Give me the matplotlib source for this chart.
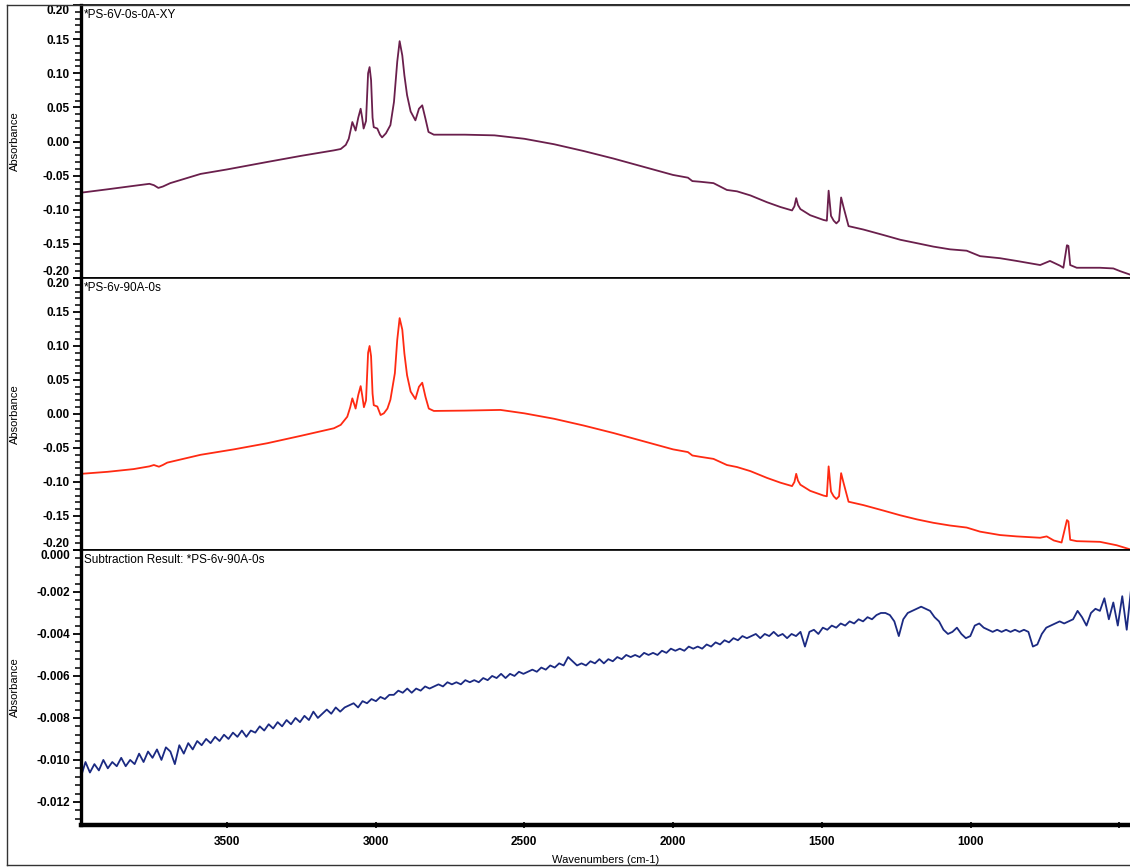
import matplotlib.pyplot as plt
import numpy as np
from matplotlib.ticker import MultipleLocator, FormatStrFormatter
from matplotlib.lines import Line2D

plt.rcParams['font.family'] = ['Liberation Sans', 'DejaVu Sans']

# Espectro 1: *PS-6V-0s-0A-XY
wn1 = [3990, 3900, 3813, 3760, 3745, 3730, 3715, 3690, 3588, 3500, 3364, 3250, 3140, 3117,
       3100, 3090, 3082, 3078, 3072, 3067, 3058, 3050, 3045, 3040, 3032, 3025, 3020, 3015,
       3010, 3006, 2994, 2985, 2978, 2965, 2950, 2938, 2927, 2919, 2910, 2903, 2894, 2882,
       2866, 2854, 2843, 2832, 2822, 2804, 2700, 2600, 2500, 2400, 2300, 2200, 2100, 2000,
       1950, 1935, 1908, 1864, 1819, 1785, 1740, 1684, 1639, 1600, 1592, 1586, 1580, 1572,
       1539, 1494, 1483, 1477, 1469, 1460, 1451, 1442, 1435, 1427, 1410, 1360, 1293, 1236,
       1180, 1125, 1069, 1013, 968, 901, 845, 766, 733, 699, 688, 676, 671, 665, 643, 565,
       520, 497, 464]
abs1 = [-0.075, -0.070, -0.065, -0.062, -0.064, -0.068, -0.066, -0.061, -0.0475, -0.041,
        -0.030, -0.021, -0.013, -0.011, -0.005, 0.004, 0.020, 0.0285, 0.022, 0.016, 0.035,
        0.048, 0.035, 0.019, 0.030, 0.100, 0.109, 0.090, 0.035, 0.021, 0.019, 0.010, 0.006,
        0.012, 0.024, 0.058, 0.117, 0.147, 0.126, 0.097, 0.068, 0.044, 0.031, 0.048, 0.053,
        0.033, 0.014, 0.010, 0.010, 0.009, 0.004, -0.004, -0.014, -0.025, -0.037, -0.049,
        -0.053, -0.058, -0.059, -0.061, -0.071, -0.073, -0.079, -0.089, -0.096, -0.101,
        -0.095, -0.083, -0.093, -0.099, -0.108, -0.115, -0.116, -0.072, -0.109, -0.116,
        -0.120, -0.116, -0.082, -0.096, -0.124, -0.129, -0.137, -0.144, -0.149, -0.154,
        -0.158, -0.160, -0.168, -0.171, -0.175, -0.181, -0.175, -0.182, -0.185, -0.152,
        -0.153, -0.181, -0.185, -0.185, -0.186, -0.190, -0.195]

# Espectro 2: *PS-6v-90A-0s
wn2 = [3990, 3900, 3813, 3760, 3745, 3728, 3715, 3700, 3588, 3476, 3364, 3250, 3140, 3117,
       3095, 3085, 3078, 3072, 3067, 3058, 3050, 3045, 3039, 3032, 3025, 3020, 3015, 3010,
       3006, 2994, 2983, 2972, 2960, 2950, 2935, 2927, 2919, 2910, 2903, 2894, 2882, 2866,
       2854, 2843, 2832, 2821, 2804, 2700, 2580, 2500, 2400, 2300, 2200, 2100, 2000, 1950,
       1935, 1908, 1864, 1819, 1785, 1740, 1684, 1639, 1600, 1592, 1586, 1580, 1572, 1539,
       1494, 1483, 1477, 1469, 1460, 1451, 1442, 1435, 1427, 1410, 1360, 1293, 1236, 1180,
       1125, 1069, 1013, 968, 901, 845, 766, 744, 720, 694, 676, 671, 665, 643, 565, 509, 464]
abs2 = [-0.088, -0.085, -0.081, -0.077, -0.075, -0.0775, -0.075, -0.0715, -0.060, -0.052,
        -0.043, -0.032, -0.021, -0.016, -0.004, 0.010, 0.023, 0.015, 0.008, 0.028, 0.041,
        0.028, 0.010, 0.020, 0.090, 0.100, 0.085, 0.030, 0.013, 0.011, -0.0015, 0.001, 0.008,
        0.021, 0.060, 0.109, 0.141, 0.124, 0.089, 0.057, 0.033, 0.022, 0.040, 0.046, 0.025,
        0.008, 0.0045, 0.005, 0.006, 0.001, -0.007, -0.017, -0.028, -0.040, -0.052, -0.056,
        -0.061, -0.063, -0.066, -0.075, -0.078, -0.084, -0.094, -0.101, -0.106, -0.100,
        -0.088, -0.098, -0.104, -0.113, -0.120, -0.121, -0.077, -0.114, -0.121, -0.125,
        -0.121, -0.087, -0.101, -0.129, -0.134, -0.142, -0.149, -0.155, -0.160, -0.164,
        -0.167, -0.173, -0.178, -0.180, -0.182, -0.180, -0.186, -0.189, -0.156, -0.158,
        -0.185, -0.187, -0.188, -0.193, -0.199]

# Resultado da subtração (3990 -> 460 cm-1)
abs3 = [
    -0.0108, -0.0101, -0.0106, -0.0102, -0.0105, -0.0100, -0.0104, -0.0101, -0.0103, -0.0099,
    -0.0103, -0.0100, -0.0102, -0.0097, -0.0101, -0.0096, -0.0099, -0.0095, -0.0100, -0.0094,
    -0.0096, -0.0102, -0.0093, -0.0097, -0.0092, -0.0095, -0.0091, -0.0093, -0.0090, -0.0092,
    -0.0089, -0.0091, -0.0088, -0.0090, -0.0087, -0.0089, -0.0086, -0.0089, -0.0086, -0.0087,
    -0.0084, -0.0086, -0.0083, -0.0085, -0.0082, -0.0084, -0.0081, -0.0083, -0.0080, -0.0082,
    -0.0079, -0.0081, -0.0077, -0.0080, -0.0078, -0.0076, -0.0078, -0.0075, -0.0077, -0.0075,
    -0.0074, -0.0073, -0.0075, -0.0072, -0.0073, -0.0071, -0.0072, -0.0070, -0.0071, -0.0069,
    -0.0069, -0.0067, -0.0068, -0.0066, -0.0068, -0.0066, -0.0067, -0.0065, -0.0066, -0.0065,
    -0.0064, -0.0065, -0.0063, -0.0064, -0.0063, -0.0064, -0.0062, -0.0063, -0.0062, -0.0063,
    -0.0061, -0.0062, -0.0060, -0.0061, -0.0059, -0.0061, -0.0059, -0.0060, -0.0058, -0.0059,
    -0.0058, -0.0057, -0.0058, -0.0056, -0.0057, -0.0055, -0.0056, -0.0054, -0.0055, -0.0051,
    -0.0053, -0.0055, -0.0054, -0.0055, -0.0053, -0.0054, -0.0052, -0.0054, -0.0052, -0.0053,
    -0.0051, -0.0052, -0.0050, -0.0051, -0.0050, -0.0051, -0.0049, -0.0050, -0.0049, -0.0050,
    -0.0048, -0.0049, -0.0047, -0.0048, -0.0047, -0.0048, -0.0046, -0.0047, -0.0046, -0.0047,
    -0.0045, -0.0046, -0.0044, -0.0045, -0.0043, -0.0044, -0.0042, -0.0043, -0.0041, -0.0042,
    -0.0041, -0.0040, -0.0042, -0.0040, -0.0041, -0.0039, -0.0041, -0.0040, -0.0042, -0.0040,
    -0.0041, -0.0039, -0.0046, -0.0039, -0.0038, -0.0040, -0.0037, -0.0038, -0.0036, -0.0037,
    -0.0035, -0.0036, -0.0034, -0.0035, -0.0033, -0.0034, -0.0032, -0.0033, -0.0031, -0.0030,
    -0.0030, -0.0031, -0.0034, -0.0041, -0.0033, -0.0030, -0.0029, -0.0028, -0.0027, -0.0028,
    -0.0029, -0.0032, -0.0034, -0.0038, -0.0040, -0.0039, -0.0037, -0.0040, -0.0042, -0.0041,
    -0.0036, -0.0035, -0.0037, -0.0038, -0.0039, -0.0038, -0.0039, -0.0038, -0.0039, -0.0038,
    -0.0039, -0.0038, -0.0039, -0.0046, -0.0045, -0.0040, -0.0037, -0.0036, -0.0035, -0.0034,
    -0.0035, -0.0034, -0.0033, -0.0029, -0.0032, -0.0036, -0.0030, -0.0028, -0.0029, -0.0023,
    -0.0033, -0.0025, -0.0036, -0.0022, -0.0038, -0.0018,
]
wn3 = np.linspace(3990, 460, len(abs3))

titulos = ['*PS-6V-0s-0A-XY', '*PS-6v-90A-0s', 'Subtraction Result: *PS-6v-90A-0s']
cores = ['#6a1f4c', '#ff2a12', '#1b2a82']

W, H = 1130, 867
fig = plt.figure(figsize=(W / 100, H / 100), dpi=100)

# posições dos painéis em pixels (topo, base)
paineis = [(5, 278), (278, 550), (550, 825)]
x0 = 81
axes = []
for topo, base in paineis:
    ax = fig.add_axes([x0 / W, 1 - base / H, 1 - x0 / W, (base - topo) / H])
    axes.append(ax)

dados = [(wn1, abs1), (wn2, abs2), (wn3, abs3)]
for ax, (x, y), cor, tit in zip(axes, dados, cores, titulos):
    ax.plot(x, y, color=cor, lw=1.3)
    ax.set_xlim(3990, 464)
    ax.text(0.003, 0.985, tit, transform=ax.transAxes, ha='left', va='top', fontsize=8.5)
    ax.set_ylabel('Absorbance', fontsize=8, labelpad=8)
    ax.spines['right'].set_visible(False)
    ax.spines['left'].set_linewidth(2.4)
    ax.spines['top'].set_linewidth(1.2)
    ax.spines['bottom'].set_linewidth(1.2)
    ax.tick_params(axis='y', which='major', direction='out', length=6, width=1.3,
                   labelsize=8.5, pad=2)
    ax.tick_params(axis='y', which='minor', direction='out', length=4, width=1.1)
    ax.set_xticks([3500, 3000, 2500, 2000, 1500, 1000, 500])
    for lab in ax.get_yticklabels():
        lab.set_fontweight('bold')

for ax in axes[:2]:
    ax.set_ylim(-0.2, 0.2)
    ax.yaxis.set_major_locator(MultipleLocator(0.05))
    ax.yaxis.set_minor_locator(MultipleLocator(0.01))
    ax.yaxis.set_major_formatter(FormatStrFormatter('%.2f'))
    ax.tick_params(axis='x', length=0, labelbottom=False)

ax3 = axes[2]
ax3.set_ylim(-0.0131, 0.0)
ax3.yaxis.set_major_locator(MultipleLocator(0.002))
ax3.yaxis.set_minor_locator(MultipleLocator(0.0004))
ax3.yaxis.set_major_formatter(FormatStrFormatter('%.3f'))
ax3.spines['bottom'].set_linewidth(3.2)
ax3.set_xticklabels(['3500', '3000', '2500', '2000', '1500', '1000', ''])
ax3.tick_params(axis='x', direction='inout', length=4, width=1.2, labelsize=8.5, pad=6)
for lab in ax3.get_xticklabels():
    lab.set_fontweight('bold')
ax3.set_xlabel('Wavenumbers (cm-1)', fontsize=8, labelpad=5)

fig.canvas.draw()
# rótulos das extremidades ficam dentro do painel, como no OMNIC
for ax in axes:
    labs = [l for l in ax.get_yticklabels() if l.get_text()]
    vals = ax.get_yticks()
    lo, hi = ax.get_ylim()
    for l, v in zip(ax.get_yticklabels(), vals):
        if abs(v - hi) < 1e-9:
            l.set_verticalalignment('top')
        elif abs(v - lo) < 1e-9:
            l.set_verticalalignment('bottom')
for ax in axes:
    ax.yaxis.set_label_coords(-0.058, 0.5)

# moldura externa
for xs, ys in [([7, 7], [5, 865]), ([7, W], [5, 5]), ([7, W], [865, 865])]:
    fig.add_artist(Line2D([x / W for x in xs], [1 - y / H for y in ys],
                          color='#333333', lw=1.0, transform=fig.transFigure))

plt.savefig('out.png', dpi=100)
